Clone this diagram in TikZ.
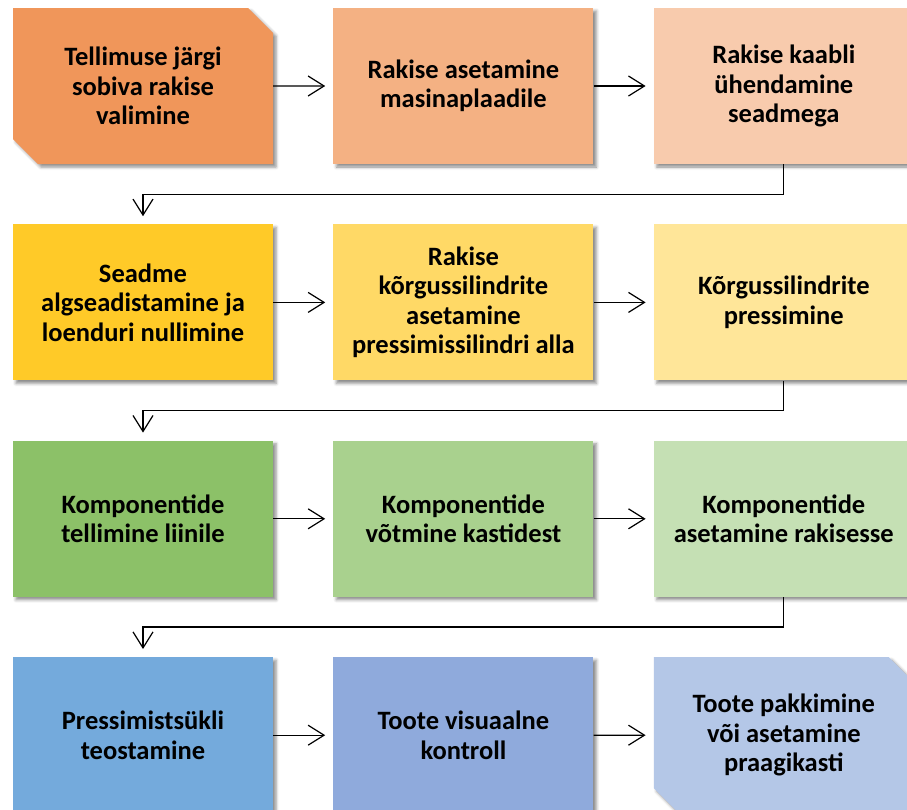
\documentclass[tikz,border=0pt]{standalone}
\usepackage{fontspec}
\setmainfont{Carlito}
\usetikzlibrary{arrows.meta,positioning,shapes.misc,shadows.blur}

\definecolor{oranzA}{HTML}{F0965A}
\definecolor{oranzB}{HTML}{F4B183}
\definecolor{oranzC}{HTML}{F8CBAD}
\definecolor{kollaneA}{HTML}{FFCA28}
\definecolor{kollaneB}{HTML}{FFD966}
\definecolor{kollaneC}{HTML}{FFE699}
\definecolor{rohelineA}{HTML}{8CC168}
\definecolor{rohelineB}{HTML}{A9D18E}
\definecolor{rohelineC}{HTML}{C5E0B4}
\definecolor{sinineA}{HTML}{74AADC}
\definecolor{sinineB}{HTML}{8FAADC}
\definecolor{sinineC}{HTML}{B4C7E7}

\begin{document}
\begin{tikzpicture}[
    node distance=60pt and 60pt,
    box/.style={rectangle, fill=#1, align=center, minimum width=260pt, minimum height=156pt,
                inner sep=0pt, font=\fontsize{26.5}{29.5}\selectfont\bfseries,
                blur shadow={shadow xshift=3pt, shadow yshift=-3pt, shadow blur radius=3pt, shadow opacity=45}},
    cbox/.style={box=#1, chamfered rectangle, chamfered rectangle corners={north east,south west},
                 chamfered rectangle xsep=12.5pt, chamfered rectangle ysep=12.5pt},
    flow/.style={-{Straight Barb[length=16pt,width=20pt]}, line width=1.2pt, shorten >=8pt}
]
\useasboundingbox (0,0) rectangle (907pt,-809pt);
% rida 1
\node[cbox=oranzA] (s1) at (143pt,-86pt) {Tellimuse järgi\\sobiva rakise\\valimine};
\node[box=oranzB, right=of s1] (s2) {Rakise asetamine\\masinaplaadile};
\node[box=oranzC, right=of s2] (s3) {Rakise kaabli\\ühendamine\\seadmega};
% rida 2
\node[box=kollaneA, below=of s1] (s4) {Seadme\\algseadistamine ja\\loenduri nullimine};
\node[box=kollaneB, right=of s4] (s5) {Rakise\\kõrgussilindrite\\asetamine\\pressimissilindri alla};
\node[box=kollaneC, right=of s5] (s6) {Kõrgussilindrite\\pressimine};
% rida 3
\node[box=rohelineA, below=of s4] (s7) {Komponentide\\tellimine liinile};
\node[box=rohelineB, right=of s7] (s8) {Komponentide\\võtmine kastidest};
\node[box=rohelineC, right=of s8] (s9) {Komponentide\\asetamine rakisesse};
% rida 4
\node[box=sinineA, below=of s7] (s10) {Pressimistsükli\\teostamine};
\node[box=sinineB, right=of s10] (s11) {Toote visuaalne\\kontroll};
\node[cbox=sinineC, right=of s11] (s12) {Toote pakkimine\\või asetamine\\praagikasti};

\draw[flow] (s1)--(s2); \draw[flow] (s2)--(s3);
\draw[flow] (s4)--(s5); \draw[flow] (s5)--(s6);
\draw[flow] (s7)--(s8); \draw[flow] (s8)--(s9);
\draw[flow] (s10)--(s11); \draw[flow] (s11)--(s12);
\draw[flow] (s3.south) -- ++(0,-30pt) -| (s4.north);
\draw[flow] (s6.south) -- ++(0,-30pt) -| (s7.north);
\draw[flow] (s9.south) -- ++(0,-30pt) -| (s10.north);
\end{tikzpicture}
\end{document}
